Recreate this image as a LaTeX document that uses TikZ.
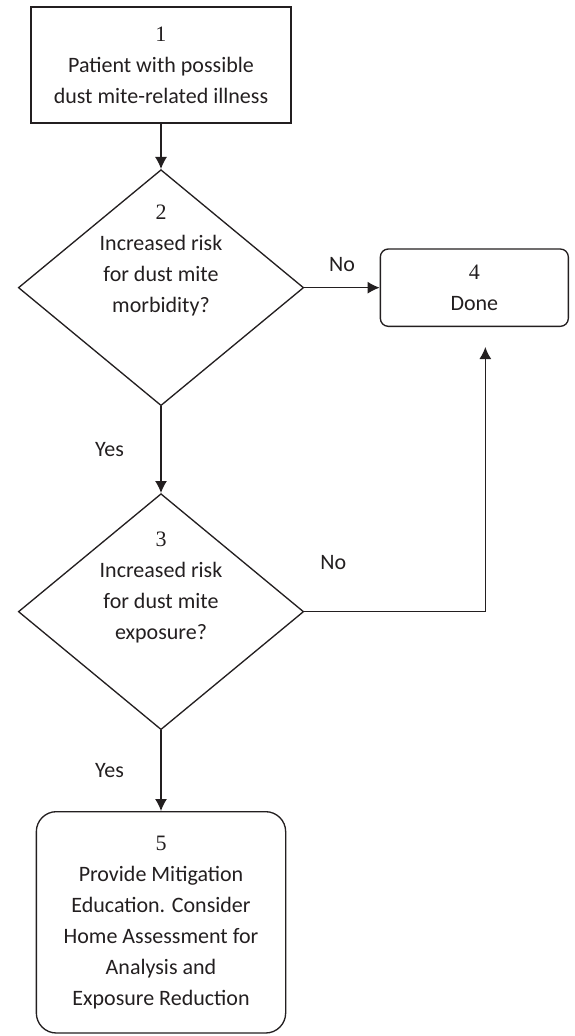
\documentclass[tikz,border=0pt]{standalone}
\usepackage{fontspec}
\setmainfont{Carlito}
\newfontfamily\numfont{Liberation Serif}
\usetikzlibrary{arrows.meta,calc,positioning,shapes.geometric}
\definecolor{inkgray}{RGB}{35,31,32}
\tikzstyle{int}=[draw=inkgray,line width=1pt,text=inkgray,align=center,font=\fontsize{16.5}{23.25}\selectfont]
\tikzstyle{dec}=[draw=inkgray,line width=1pt,diamond,inner sep=0pt,minimum width=214pt,minimum height=177pt]
\tikzstyle{txt}=[text=inkgray,align=center,font=\fontsize{16.5}{23.25}\selectfont]
\tikzstyle{lbl}=[text=inkgray,font=\fontsize{16.5}{20}\selectfont]

\begin{document}
\begin{tikzpicture}[
      >={Latex[length=9pt,width=9pt]},
      x=0.75pt,y=-0.75pt
    ]
      \useasboundingbox (0,0) rectangle (575,1036);
      \node [int,minimum width=195pt,minimum height=87pt] (kp) at (161,65) {{\numfont 1}\\Patient with possible\\dust mite-related illness};
      \node [dec] (morb) [node distance=167pt,below of=kp] {};
      \node [txt] (morbtxt) at ($(morb)+(0,-27)$) {{\numfont 2}\\Increased risk\\for dust mite\\morbidity?};
      \node [int,rounded corners=6pt,minimum width=141pt,minimum height=58pt] (done) [node distance=235pt,right of=morb] {{\numfont 4}\\Done};
      \node [dec] (expo) [node distance=243pt,below of=morb] {};
      \node [txt] (expotxt) at ($(expo)+(0,-24)$) {{\numfont 3}\\Increased risk\\for dust mite\\exposure?};
      \node [int,rounded corners=15pt,minimum width=187pt,minimum height=166pt] (mitig) [node distance=233pt,below of=expo] {{\numfont 5}\\Provide Mitigation\\Education. Consider\\Home Assessment for\\Analysis and\\Exposure Reduction};
      \coordinate (back) at ($(done.south)+(11,20)$);

      \draw[->,line width=1pt,inkgray] (kp) -- (morb);
      \draw[->,line width=1pt,inkgray] (morb) -- node[lbl,above=8pt] {No} (done);
      \draw[->,line width=1pt,inkgray] (morb) -- node[lbl,left=24pt] {Yes} (expo);
      \draw[->,line width=1pt,inkgray] (expo.east) -| node[lbl,pos=0.08,above=28pt] {No} (back);
      \draw[->,line width=1pt,inkgray] (expo) -- node[lbl,left=24pt] {Yes} (mitig);
      \end{tikzpicture}
\end{document}
